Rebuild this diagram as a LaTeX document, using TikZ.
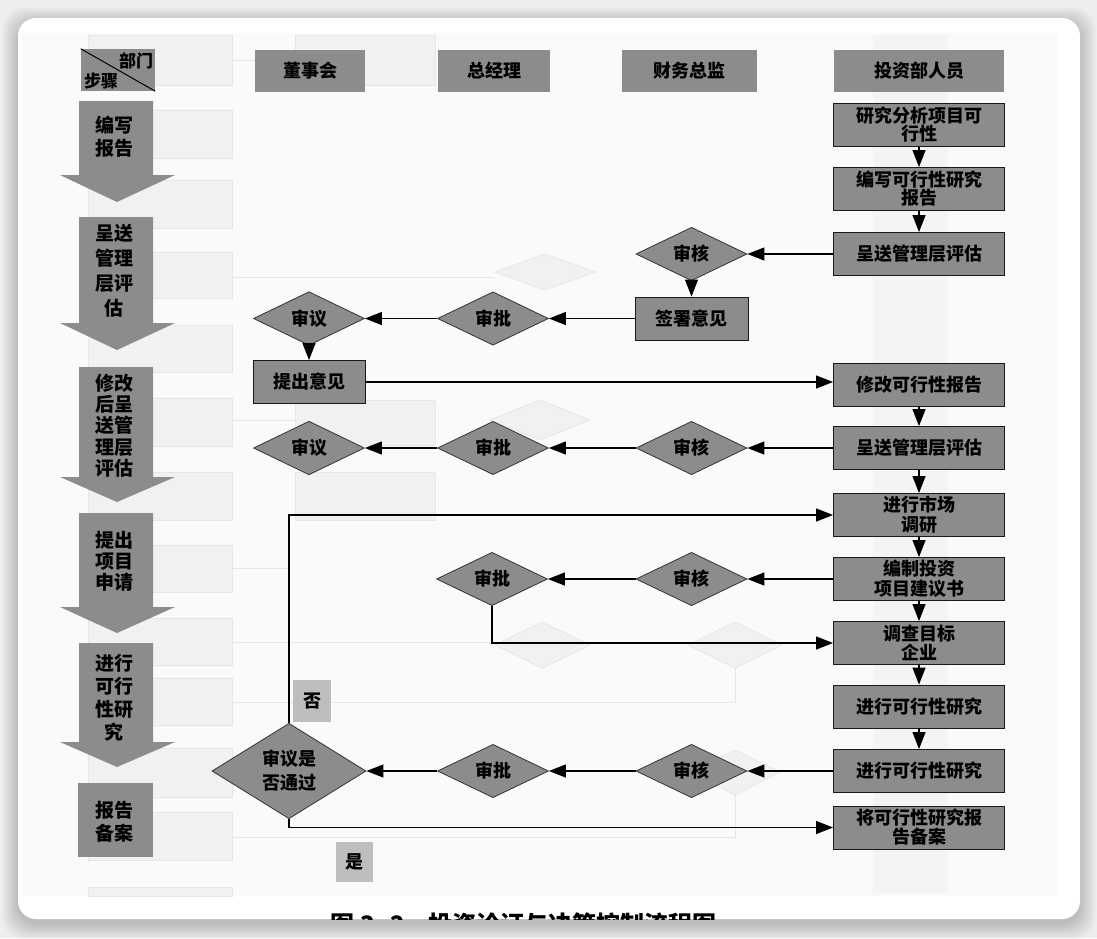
\documentclass[tikz,border=0pt]{standalone}
\usepackage{fontspec}
\newfontfamily\cjk{Noto Sans CJK SC}
\usetikzlibrary{arrows.meta,shapes.geometric,calc}

\definecolor{pagebg}{HTML}{EEEEEE}
\definecolor{scanbg}{HTML}{FAFAFA}
\definecolor{cellgray}{HTML}{8C8C8C}
\definecolor{taggray}{HTML}{BEBEBE}
\definecolor{ghostfill}{HTML}{F1F1F1}
\definecolor{ghostline}{HTML}{E6E6E6}
\definecolor{ghoststrip}{HTML}{F4F4F4}

\tikzset{
  every node/.style={font=\cjk\bfseries\fontsize{18}{19}\selectfont, text=black},
  header/.style={fill=cellgray, minimum height=42pt, inner sep=0pt},
  actbox/.style={draw=black!90, line width=0.9pt, fill=cellgray, minimum width=171pt,
    minimum height=43pt, inner sep=0pt, align=center},
  check/.style={diamond, draw=black!80, line width=0.8pt, fill=cellgray, inner sep=0pt,
    minimum width=111pt, minimum height=42pt},
  judge/.style={check, minimum width=154pt, minimum height=82pt, align=center,
    font=\cjk\bfseries\fontsize{18}{24}\selectfont},
  yesno/.style={fill=taggray, inner sep=0pt},
  stagetext/.style={align=center, inner sep=0pt},
  flow/.style={line width=1.2pt, -{Triangle[length=17pt,width=13pt]}},
  ghost/.style={fill=ghostfill, draw=ghostline, line width=0.8pt},
  ghostwire/.style={draw=ghostline, line width=1pt}
}

% downward block arrow of the step column: top of body, base of head, tip
\newcommand\stagearrow[3]{%
  \fill[cellgray] (79,#1) -- (153,#1) -- (153,#2) -- (175,#2) -- (117,#3)
    -- (60,#2) -- (79,#2) -- cycle;}

\begin{document}
\begin{tikzpicture}[x=1pt,y=-1pt]
\useasboundingbox (0,0) rectangle (1097,938);
\fill[pagebg] (0,0) rectangle (1097,938);

% card with soft shadow
\foreach \i in {1,...,16}
  \fill[black, opacity=0.011, rounded corners=22pt]
    ({18-\i},{18-\i+5}) rectangle ({1080+\i},{919+\i+5});
\fill[white, rounded corners=18pt] (18,18) rectangle (1080,919);
\fill[scanbg] (22,33) rectangle (1058,896);

% faint show-through from the reverse side of the page
\fill[ghoststrip] (873,35) rectangle (948,893);
\foreach \a/\b in {35/85,110/158,180/228,252/298,325/372,398/446,472/520,
                   545/592,618/665,678/725,748/797,812/860,887/896}
  \path[ghost] (88,\a) rectangle (232,\b);
\path[ghost] (295,35) rectangle (435,85);
\path[ghost] (295,400) rectangle (435,445);
\path[ghost] (295,472) rectangle (435,520);
\path[ghost] (495,272) -- (545,254) -- (595,272) -- (545,290) -- cycle;
\path[ghost] (490,420) -- (540,400) -- (590,420) -- (540,440) -- cycle;
\path[ghost] (495,645) -- (542,622) -- (590,645) -- (542,668) -- cycle;
\path[ghost] (688,645) -- (735,622) -- (782,645) -- (735,668) -- cycle;
\path[ghost] (690,772) -- (735,750) -- (780,772) -- (735,795) -- cycle;
\path[ghostwire] (232,60) -- (255,60);
\path[ghostwire] (232,277) -- (495,277);
\path[ghostwire] (232,420) -- (295,420);
\path[ghostwire] (232,568) -- (290,568);
\path[ghostwire] (232,642) -- (495,642);
\path[ghostwire] (232,702) -- (735,702) -- (735,668);
\path[ghostwire] (232,837) -- (735,837) -- (735,795);

% column headers
\node[header, minimum width=74pt] (corner) at (118,70) {};
\draw[line width=1pt] (corner.north west) -- (corner.south east);
\node[font=\cjk\bfseries\fontsize{17}{17}\selectfont, inner sep=0pt] (dept) at (136,61) {部门};
\node[font=\cjk\bfseries\fontsize{17}{17}\selectfont, inner sep=0pt] (stage) at (101,81) {步骤};
\node[header, minimum width=110pt] (hboard) at (310,71) {董事会};
\node[header, minimum width=112pt] (hgm) at (494,71) {总经理};
\node[header, minimum width=135pt] (hcfo) at (689.5,71) {财务总监};
\node[header, minimum width=170pt] (hinv) at (919,71) {投资部人员};

% step column
\stagearrow{101}{175}{202}
\stagearrow{217}{323}{350}
\stagearrow{367}{477}{502}
\stagearrow{513}{607}{633}
\stagearrow{643}{742}{767}
\fill[cellgray] (78,783) rectangle (153,857);
\node[stagetext, font=\cjk\bfseries\fontsize{19}{23}\selectfont] (s1) at (114,136.5) {编写\\报告};
\node[stagetext, font=\cjk\bfseries\fontsize{19}{25}\selectfont] (s2) at (114,270.5) {呈送\\管理\\层评\\估};
\node[stagetext, font=\cjk\bfseries\fontsize{19}{21.3}\selectfont] (s3) at (114,425.5) {修改\\后呈\\送管\\理层\\评估};
\node[stagetext, font=\cjk\bfseries\fontsize{19}{21}\selectfont] (s4) at (114,561) {提出\\项目\\申请};
\node[stagetext, font=\cjk\bfseries\fontsize{19}{23}\selectfont] (s5) at (114,697.5) {进行\\可行\\性研\\究};
\node[stagetext, font=\cjk\bfseries\fontsize{19}{23}\selectfont] (s6) at (114,821.5) {报告\\备案};

% investment staff column
\node[actbox, font=\cjk\bfseries\fontsize{18}{18}\selectfont] (r1) at (919,125) {研究分析项目可\\行性};
\node[actbox, font=\cjk\bfseries\fontsize{18}{18}\selectfont] (r2) at (919,189) {编写可行性研究\\报告};
\node[actbox] (r3) at (919,254) {呈送管理层评估};
\node[actbox] (r4) at (919,384.5) {修改可行性报告};
\node[actbox] (r5) at (919,448) {呈送管理层评估};
\node[actbox, font=\cjk\bfseries\fontsize{18}{20}\selectfont] (r6) at (919,515) {进行市场\\调研};
\node[actbox, font=\cjk\bfseries\fontsize{18}{20}\selectfont] (r7) at (919,579) {编制投资\\项目建议书};
\node[actbox, font=\cjk\bfseries\fontsize{18}{19}\selectfont] (r8) at (919,643) {调查目标\\企业};
\node[actbox] (r9) at (919,706.5) {进行可行性研究};
\node[actbox] (r10) at (919,771) {进行可行性研究};
\node[actbox, font=\cjk\bfseries\fontsize{18}{19}\selectfont] (r11) at (919,827.5) {将可行性研究报\\告备案};

% finance director column
\node[check] (k1) at (691.5,254) {审核};
\node[actbox, minimum width=113pt] (sig) at (691.5,318.5) {签署意见};
\node[check] (k2) at (691.5,448) {审核};
\node[check] (k3) at (691.5,579) {审核};
\node[check] (k4) at (691.5,771) {审核};

% general manager column
\node[check] (p1) at (493,318.5) {审批};
\node[check] (p2) at (493,448) {审批};
\node[check] (p3) at (492,579) {审批};
\node[check] (p4) at (493,771) {审批};

% board column
\node[check] (v1) at (309,318.5) {审议};
\node[actbox, minimum width=112pt] (tc) at (309,382) {提出意见};
\node[check] (v2) at (309,448) {审议};
\node[judge] (jd) at (289,771) {审议是\\否通过};
\node[yesno, minimum width=38pt, minimum height=42pt] (no) at (312,701) {否};
\node[yesno, minimum width=37pt, minimum height=40pt] (yes) at (354.5,862) {是};

% connectors
\foreach \a/\b in {r1/r2,r2/r3,r4/r5,r5/r6,r6/r7,r7/r8,r8/r9,r9/r10}
  \draw[flow] (\a.south) -- (\b.north);
\draw[flow] (r3.west) -- (k1.east);
\draw[flow] (k1.south) -- (sig.north);
\draw[flow] (sig.west) -- (p1.east);
\draw[flow] (p1.west) -- (v1.east);
\draw[flow] (v1.south) -- (tc.north);
\draw[flow] (tc.east) -- (tc.east -| r4.west);
\draw[flow] (r5.west) -- (k2.east);
\draw[flow] (k2.west) -- (p2.east);
\draw[flow] (p2.west) -- (v2.east);
\draw[flow] (jd.north) |- (r6.west);
\draw[flow] (r7.west) -- (k3.east);
\draw[flow] (k3.west) -- (p3.east);
\draw[flow] (p3.south) |- (r8.west);
\draw[flow] (r10.west) -- (k4.east);
\draw[flow] (k4.west) -- (p4.east);
\draw[flow] (p4.west) -- (jd.east);
\draw[flow] (jd.south) |- (r11.west);

% figure caption, cut by the lower edge of the card
\begin{scope}
  \clip[rounded corners=18pt] (18,18) rectangle (1080,919);
  \node[anchor=base west, inner sep=0pt, font=\cjk\bfseries\fontsize{24}{24}\selectfont]
    (caption) at (330,933) {图\hspace{6pt}3\hspace{3pt}-\hspace{3pt}2\hspace{24pt}投资论证与决策控制流程图};
\end{scope}
\end{tikzpicture}
\end{document}
